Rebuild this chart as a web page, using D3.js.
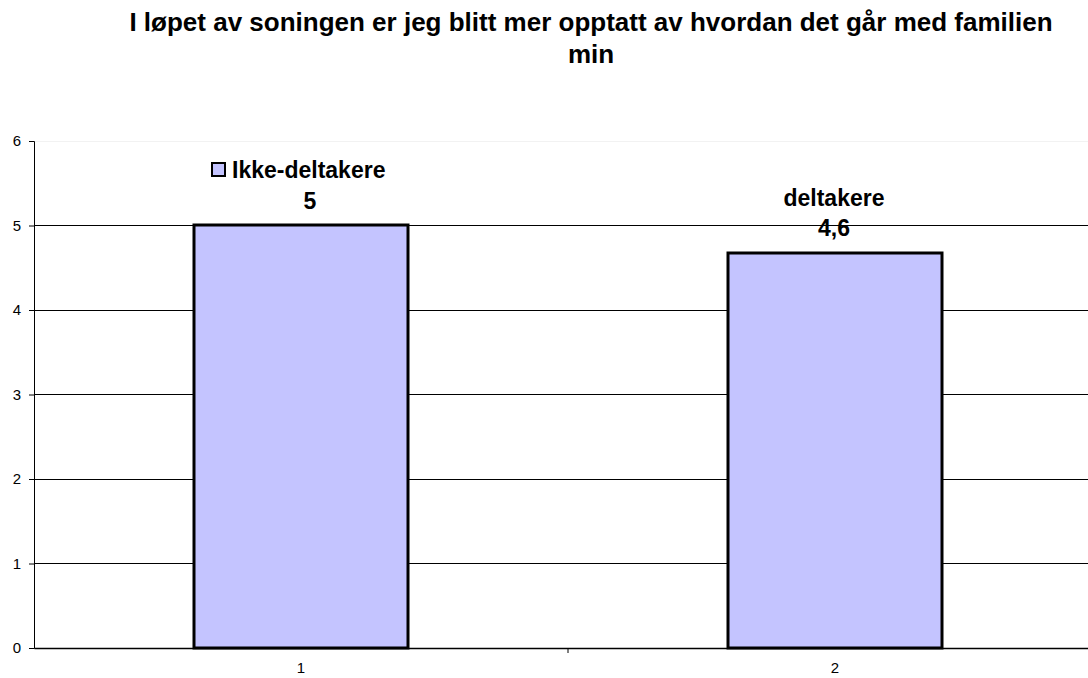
<!DOCTYPE html>
<html>
<head>
<meta charset="utf-8">
<script src="https://cdn.jsdelivr.net/npm/d3@7"></script>
<style>
  body { margin: 0; background: #fff; }
  text { font-family: Arial, "Liberation Sans", sans-serif; }
</style>
</head>
<body>
<script>
var svgWidth = 1088;
var svgHeight = 678;

// DATA
var categories = ["1", "2"];
var values = [5, 4.67];
var valueLabels = ["5", "4,6"];
var seriesNames = ["Ikke-deltakere", "deltakere"];
var yTicks = [0, 1, 2, 3, 4, 5, 6];
var titleLines = ["I løpet av soningen er jeg blitt mer opptatt av hvordan det går med familien", "min"];

var margin = { top: 141, right: 0, bottom: 30, left: 34 };
var plotWidth = 1068;
var chartHeight = svgHeight - margin.top - margin.bottom;
var barFill = "#c4c4ff";

var svg = d3.select("body")
  .append("svg")
  .attr("width", svgWidth)
  .attr("height", svgHeight);

// TITLE
svg.selectAll(".title")
  .data(titleLines)
  .enter()
  .append("text")
  .attr("class", "title")
  .attr("x", 591)
  .attr("y", (d, i) => 31 + i * 32)
  .attr("text-anchor", "middle")
  .attr("font-size", "26px")
  .attr("font-weight", "bold")
  .text(d => d);

var chartGroup = svg.append("g")
  .attr("transform", `translate(${margin.left}, ${margin.top})`);

// SCALES
var xScale = d3.scaleBand().domain(categories).range([0, plotWidth]);
var yScale = d3.scaleLinear().domain([0, 6]).range([chartHeight, 0]);

// GRIDLINES
chartGroup.selectAll(".grid")
  .data(yTicks.filter(d => d > 0))
  .enter()
  .append("line")
  .attr("x1", 0)
  .attr("x2", svgWidth)
  .attr("y1", d => yScale(d))
  .attr("y2", d => yScale(d))
  .attr("stroke", d => d === 6 ? "#f2f2f2" : "#000")
  .attr("stroke-width", 1)
  .attr("shape-rendering", "crispEdges");

// BARS
var barW = Math.round(xScale.bandwidth() * 0.4);
chartGroup.selectAll(".bar")
  .data(values)
  .enter()
  .append("rect")
  .attr("x", (d, i) => Math.round(xScale(categories[i]) + xScale.bandwidth() / 2 - barW / 2))
  .attr("y", d => Math.round(yScale(d)))
  .attr("width", barW)
  .attr("height", d => chartHeight - Math.round(yScale(d)))
  .attr("fill", barFill)
  .attr("stroke", "#000")
  .attr("stroke-width", 3);

// AXES
var leftAxis = d3.axisLeft(yScale).tickValues(yTicks).tickFormat(d3.format("d")).tickSize(5).tickPadding(8);
var yAxisG = chartGroup.append("g").call(leftAxis);
yAxisG.select(".domain").attr("stroke", "#000");
yAxisG.selectAll("text").attr("font-size", "15px").attr("fill", "#000");

var bottomAxis = d3.axisBottom(xScale).tickSize(0).tickPadding(14);
var xAxisG = chartGroup.append("g")
  .attr("transform", `translate(0, ${chartHeight})`)
  .call(bottomAxis);
xAxisG.select(".domain").attr("stroke", "#000").attr("stroke-width", 1.5);
xAxisG.selectAll("text").attr("font-size", "15px").attr("fill", "#000");

// category separator ticks
chartGroup.selectAll(".sep")
  .data(categories.slice(1))
  .enter()
  .append("line")
  .attr("x1", d => xScale(d))
  .attr("x2", d => xScale(d))
  .attr("y1", chartHeight)
  .attr("y2", chartHeight + 5)
  .attr("stroke", "#000");

// DATA LABELS
chartGroup.selectAll(".vlabel")
  .data(values)
  .enter()
  .append("text")
  .attr("x", (d, i) => xScale(categories[i]) + xScale.bandwidth() / 2 + (i === 0 ? 9 : -1))
  .attr("y", d => yScale(d) - 17)
  .attr("text-anchor", "middle")
  .attr("font-size", "23px")
  .attr("font-weight", "bold")
  .text((d, i) => valueLabels[i]);

chartGroup.append("text")
  .attr("x", xScale(categories[1]) + xScale.bandwidth() / 2 - 1)
  .attr("y", yScale(values[1]) - 47)
  .attr("text-anchor", "middle")
  .attr("font-size", "23px")
  .attr("font-weight", "bold")
  .text(seriesNames[1]);

// LEGEND
var legend = chartGroup.append("g")
  .attr("transform", `translate(${Math.round(xScale(categories[0]) + xScale.bandwidth() / 2 - 89)}, ${Math.round(yScale(values[0]) - 62)})`);
legend.append("rect")
  .attr("width", 13).attr("height", 13)
  .attr("fill", barFill)
  .attr("stroke", "#000")
  .attr("stroke-width", 2);
legend.append("text")
  .attr("x", 20)
  .attr("y", 15)
  .attr("font-size", "23px")
  .attr("font-weight", "bold")
  .text(seriesNames[0]);
</script>
</body>
</html>
